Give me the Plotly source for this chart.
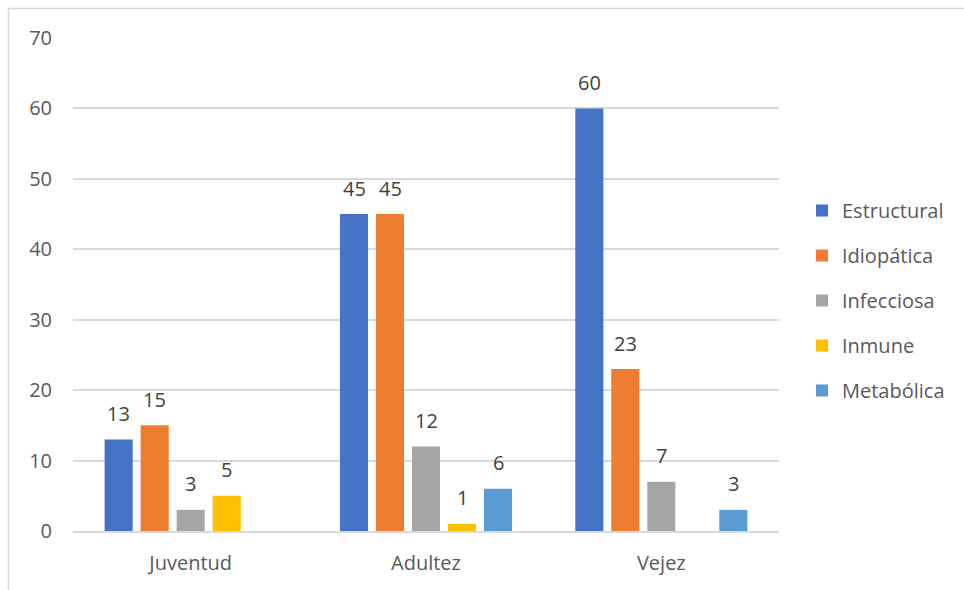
import plotly.graph_objects as go

categories = ["Juventud", "Adultez", "Vejez"]
series_names = ["Estructural", "Idiopática", "Infecciosa", "Inmune", "Metabólica"]
estructural = [13, 45, 60]
idiopatica = [15, 45, 23]
infecciosa = [3, 12, 7]
inmune = [5, 1, None]
metabolica = [None, 6, 3]
colors = ["#4472C4", "#ED7D31", "#A5A5A5", "#FFC000", "#5B9BD5"]
y_ticks = [0, 10, 20, 30, 40, 50, 60, 70]

series_values = [estructural, idiopatica, infecciosa, inmune, metabolica]

FONT = "Open Sans"
FS = 20
W, H = 964, 590
ML, MR, MT, MB = 73, 185, 38, 59
PW = W - ML - MR
PH = H - MT - MB

fig = go.Figure()
for name, vals, col in zip(series_names, series_values, colors):
    fig.add_trace(go.Bar(
        name=name, x=categories, y=vals,
        marker=dict(color=col, line=dict(width=0)),
        legendgroup=name,
    ))

# data labels via annotations positioned relative to each bar
cat_px = PW / len(categories)
slot_px = 36
n = len(series_names)
for i, vals in enumerate(series_values):
    xshift = (i - (n - 1) / 2) * slot_px
    for c, v in zip(categories, vals):
        if v is None:
            continue
        fig.add_annotation(
            x=c, y=v, xref="x", yref="y", text=str(v), showarrow=False,
            xshift=xshift, yshift=26, yanchor="middle",
            font=dict(family=FONT, size=FS, color="#404040"),
        )

# outer chart border (only left/top visible in the frame)
fig.add_shape(type="rect", xref="paper", yref="paper",
              x0=(8.5 - ML) / PW, x1=(990 - ML) / PW,
              y0=(H - MB - 620) / PH, y1=(H - MB - 8.5) / PH,
              line=dict(color="#D9D9D9", width=1.5), fillcolor="rgba(0,0,0,0)",
              layer="below")

fig.update_layout(
    width=W, height=H,
    margin=dict(l=ML, r=MR, t=MT, b=MB, pad=0),
    paper_bgcolor="white", plot_bgcolor="white",
    barmode="group", bargap=1 - 180 / cat_px, bargroupgap=0.22,
    font=dict(family=FONT, size=FS, color="#595959"),
    showlegend=True,
    legend=dict(x=(802 - ML) / PW, xanchor="left", xref="paper",
                y=(H - MB - 300.5) / PH, yanchor="middle",
                font=dict(family=FONT, size=FS, color="#595959"),
                tracegroupgap=16, traceorder="grouped",
                bgcolor="rgba(0,0,0,0)", itemclick=False),
    xaxis=dict(showgrid=False, showline=True, linecolor="#D9D9D9", linewidth=1.5,
               ticks="", ticklabelstandoff=13,
               tickfont=dict(family=FONT, size=FS, color="#595959")),
    yaxis=dict(range=[0, 70], tickvals=y_ticks, showgrid=True, gridcolor="#D9D9D9",
               gridwidth=1.5, zeroline=False, showline=False, ticks="",
               ticklabelstandoff=20,
               tickfont=dict(family=FONT, size=FS, color="#595959")),
)

fig.write_html("out.html")
